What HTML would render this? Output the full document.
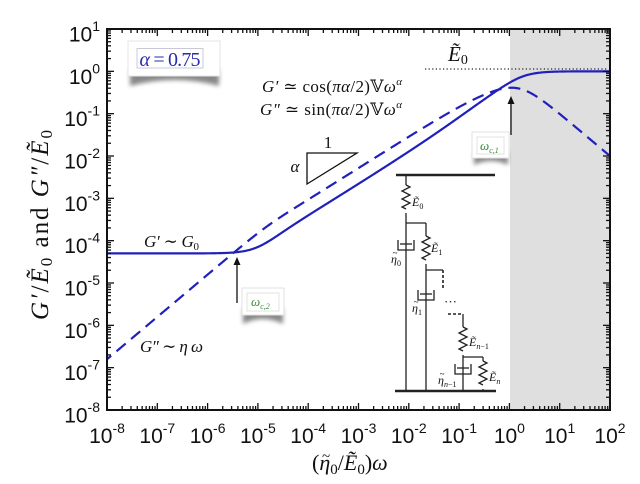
<!DOCTYPE html>
<html><head><meta charset="utf-8"><style>
html,body{margin:0;padding:0;background:#fff;}
svg{display:block;}
.tk{font-family:"Liberation Sans",Arial,sans-serif;font-size:21px;fill:#111;}
.m{font-family:"Liberation Serif","DejaVu Serif",serif;fill:#111;}
</style></head><body>
<svg id="s" width="640" height="484" viewBox="0 0 640 484" xmlns="http://www.w3.org/2000/svg">
<defs>
<clipPath id="pc"><rect x="107" y="29" width="503" height="381"/></clipPath>
<filter id="bl" x="-20%" y="-50%" width="140%" height="200%"><feGaussianBlur stdDeviation="2"/></filter>
</defs>
<rect x="0" y="0" width="640" height="484" fill="#fff"/>
<rect x="510" y="29" width="100" height="381" fill="#dfdfdf"/>
<line x1="425" y1="69" x2="608" y2="69" stroke="#222" stroke-width="1.2" stroke-dasharray="1.2 2.4"/>
<g id="curves" clip-path="url(#pc)"></g>
<g id="ticks" stroke="#111" stroke-width="1.3"></g>
<rect x="107" y="29" width="503" height="381" fill="none" stroke="#111" stroke-width="2"/>

<!-- x tick labels -->
<g class="tk" text-anchor="middle">
<text x="107" y="443">10<tspan dy="-10" font-size="14">-8</tspan></text>
<text x="157.3" y="443">10<tspan dy="-10" font-size="14">-7</tspan></text>
<text x="207.6" y="443">10<tspan dy="-10" font-size="14">-6</tspan></text>
<text x="257.9" y="443">10<tspan dy="-10" font-size="14">-5</tspan></text>
<text x="308.2" y="443">10<tspan dy="-10" font-size="14">-4</tspan></text>
<text x="358.5" y="443">10<tspan dy="-10" font-size="14">-3</tspan></text>
<text x="408.8" y="443">10<tspan dy="-10" font-size="14">-2</tspan></text>
<text x="459.1" y="443">10<tspan dy="-10" font-size="14">-1</tspan></text>
<text x="509.4" y="443">10<tspan dy="-10" font-size="14">0</tspan></text>
<text x="559.7" y="443">10<tspan dy="-10" font-size="14">1</tspan></text>
<text x="610" y="443">10<tspan dy="-10" font-size="14">2</tspan></text>
</g>
<!-- y tick labels -->
<g class="tk" text-anchor="end">
<text x="100" y="41.5">10<tspan dy="-10.5" font-size="14">1</tspan></text>
<text x="100" y="83.8">10<tspan dy="-10.5" font-size="14">0</tspan></text>
<text x="100" y="126.2">10<tspan dy="-10.5" font-size="14">-1</tspan></text>
<text x="100" y="168.5">10<tspan dy="-10.5" font-size="14">-2</tspan></text>
<text x="100" y="210.8">10<tspan dy="-10.5" font-size="14">-3</tspan></text>
<text x="100" y="253.2">10<tspan dy="-10.5" font-size="14">-4</tspan></text>
<text x="100" y="295.5">10<tspan dy="-10.5" font-size="14">-5</tspan></text>
<text x="100" y="337.8">10<tspan dy="-10.5" font-size="14">-6</tspan></text>
<text x="100" y="380.2">10<tspan dy="-10.5" font-size="14">-7</tspan></text>
<text x="100" y="422.5">10<tspan dy="-10.5" font-size="14">-8</tspan></text>
</g>

<!-- axis labels -->
<text class="m" transform="translate(48,225) rotate(-90)" text-anchor="middle" font-size="25" textLength="190" lengthAdjust="spacing"><tspan font-style="italic">G′</tspan>/<tspan font-style="italic">Ẽ</tspan><tspan font-size="17" dy="4">0</tspan><tspan dy="-4"> and </tspan><tspan font-style="italic">G″</tspan>/<tspan font-style="italic">Ẽ</tspan><tspan font-size="17" dy="4">0</tspan></text>
<text class="m" x="312" y="470" font-size="22">(<tspan font-style="italic">η</tspan><tspan font-size="15" dy="4">0</tspan><tspan dy="-4">/</tspan><tspan font-style="italic">Ẽ</tspan><tspan font-size="15" dy="4">0</tspan><tspan dy="-4">)</tspan><tspan font-style="italic">ω</tspan></text>
<text class="m" x="326" y="461" font-size="15" text-anchor="middle">~</text>

<!-- alpha legend box -->
<path d="M130,70 L219,70 L219,86 Q175,74 130,86 Z" fill="#888" filter="url(#bl)"/>
<rect x="128" y="41" width="92" height="35" fill="#fff" stroke="#e4e4e4" stroke-width="1"/>
<rect x="137" y="48.5" width="66" height="19.5" fill="#fff" stroke="#c8c8d8" stroke-width="1"/>
<text class="m" x="170" y="66" text-anchor="middle" font-size="20" style="fill:#2a2ab0" textLength="61" lengthAdjust="spacing"><tspan font-style="italic">α</tspan> = 0.75</text>

<!-- formulas -->
<text class="m" x="262" y="92" font-size="17" textLength="140" lengthAdjust="spacing"><tspan font-style="italic">G′</tspan> ≃ cos(<tspan font-style="italic">πα</tspan>/2)𝕍<tspan font-style="italic">ω</tspan><tspan font-size="11" dy="-7" font-style="italic">α</tspan></text>
<text class="m" x="260" y="115" font-size="17" textLength="142" lengthAdjust="spacing"><tspan font-style="italic">G″</tspan> ≃ sin(<tspan font-style="italic">πα</tspan>/2)𝕍<tspan font-style="italic">ω</tspan><tspan font-size="11" dy="-7" font-style="italic">α</tspan></text>

<!-- E0 label -->
<text class="m" x="448" y="61" font-size="21" font-style="italic">Ẽ<tspan font-size="14" dy="3" font-style="normal">0</tspan></text>

<!-- slope triangle -->
<path d="M307,153 L357,153 L307,184 Z" fill="none" stroke="#111" stroke-width="1.3"/>
<text class="m" x="328" y="148" font-size="17" text-anchor="middle">1</text>
<text class="m" x="295" y="172" font-size="17" text-anchor="middle" font-style="italic">α</text>

<!-- regime labels -->
<text class="m" x="144" y="247" font-size="17" textLength="55" lengthAdjust="spacing"><tspan font-style="italic">G′</tspan> ∼ <tspan font-style="italic">G</tspan><tspan font-size="11" dy="3">0</tspan></text>
<text class="m" x="140" y="352" font-size="17" textLength="63" lengthAdjust="spacing"><tspan font-style="italic">G″</tspan> ∼ <tspan font-style="italic">η ω</tspan></text>

<!-- omega c1 arrow & box -->
<line x1="511" y1="135" x2="511" y2="102" stroke="#111" stroke-width="1.3"/>
<path d="M511,96 L507.5,104 L514.5,104 Z" fill="#111"/>
<path d="M474,152 L508,152 L508,165 Q491,157 474,165 Z" fill="#888" filter="url(#bl)"/>
<rect x="472" y="132" width="37" height="26" fill="#fff" stroke="#e2e2e2" stroke-width="1"/>
<rect x="477" y="137" width="27" height="17" fill="#fff" stroke="#dcdcdc" stroke-width="0.8"/>
<text class="m" x="480" y="150" font-size="13" font-style="italic" style="fill:#3a8a3a">ω<tspan font-size="8" dy="3">c,1</tspan></text>

<!-- omega c2 arrow & box -->
<line x1="237" y1="303" x2="237" y2="264" stroke="#111" stroke-width="1.3"/>
<path d="M237,257 L233.5,265 L240.5,265 Z" fill="#111"/>
<path d="M243,308 L283,308 L283,324 Q263,314 243,324 Z" fill="#888" filter="url(#bl)"/>
<rect x="242" y="288" width="42" height="27" fill="#fff" stroke="#e2e2e2" stroke-width="1"/>
<rect x="247" y="293" width="32" height="18" fill="#fff" stroke="#dcdcdc" stroke-width="0.8"/>
<text class="m" x="251" y="306" font-size="13" font-style="italic" style="fill:#3a8a3a">ω<tspan font-size="8" dy="3">c,2</tspan></text>

<!-- circuit -->
<g stroke="#222" stroke-width="1.3" fill="none">
<line x1="396" y1="175" x2="495" y2="175" stroke-width="2.5"/>
<line x1="395" y1="391" x2="496" y2="391" stroke-width="2.5"/>
<line x1="406" y1="175" x2="406" y2="185"/>
<path d="M406,185 l4,2 l-8,4 l8,4 l-8,4 l8,4 l-8,4 l4,2"/>
<line x1="406" y1="213" x2="406" y2="391"/>
<line x1="406" y1="223" x2="426" y2="223"/>
<line x1="426" y1="223" x2="426" y2="236"/>
<path d="M426,236 l4,2 l-8,4 l8,4 l-8,4 l8,4 l-8,4 l4,2"/>
<line x1="426" y1="264" x2="426" y2="391"/>
<line x1="426" y1="270" x2="443" y2="270"/>
<line x1="443" y1="270" x2="443" y2="288" stroke-dasharray="3 2" stroke-width="1.6"/>
<line x1="448" y1="314" x2="463" y2="314" stroke-dasharray="3 2" stroke-width="1.6"/>
<line x1="463" y1="314" x2="463" y2="327"/>
<path d="M463,327 l4,2 l-8,4 l8,4 l-8,4 l8,4 l-8,4 l4,2"/>
<line x1="463" y1="355" x2="463" y2="391"/>
<line x1="463" y1="357" x2="483" y2="357"/>
<line x1="483" y1="357" x2="483" y2="361"/>
<path d="M483,361 l4,2 l-8,4 l8,4 l-8,4 l8,4 l-8,4 l4,2"/>
<line x1="483" y1="389" x2="483" y2="391"/>
<path d="M398,240 V250 H414 V240"/>
<line x1="400" y1="244" x2="412" y2="244"/>
<path d="M418,290 V300 H434 V290"/>
<line x1="420" y1="294" x2="432" y2="294"/>
<path d="M455,364 V374 H471 V364"/>
<line x1="457" y1="368" x2="469" y2="368"/>
</g>
<text class="m" x="444" y="306" font-size="13">···</text>
<g class="m" font-size="12" font-style="italic">
<text x="412" y="206">Ẽ<tspan font-size="8" dy="3" font-style="normal">0</tspan></text>
<text x="431" y="252">Ẽ<tspan font-size="8" dy="3" font-style="normal">1</tspan></text>
<text x="391" y="263">η<tspan font-size="8" dy="3" font-style="normal">0</tspan></text>
<text x="412" y="312">η<tspan font-size="8" dy="3" font-style="normal">1</tspan></text>
<text x="469" y="346">Ẽ<tspan font-size="8" dy="3" font-style="italic">n</tspan><tspan font-size="8" font-style="normal">−1</tspan></text>
<text x="438" y="384">η<tspan font-size="8" dy="3" font-style="italic">n</tspan><tspan font-size="8" font-style="normal">−1</tspan></text>
<text x="489" y="381">Ẽ<tspan font-size="8" dy="3">n</tspan></text>
</g>
<g class="m" font-size="9" text-anchor="middle">
<text x="395" y="256">~</text>
<text x="416" y="305">~</text>
<text x="442" y="377">~</text>
</g>
</svg>
<script>
(function(){
var NS="http://www.w3.org/2000/svg";
function X(l){return 107+(l+8)*50.3;}
function Y(l){return 29+(1-l)*42.333;}
var tg=document.getElementById("ticks");
function ln(x1,y1,x2,y2){var e=document.createElementNS(NS,"line");e.setAttribute("x1",x1);e.setAttribute("y1",y1);e.setAttribute("x2",x2);e.setAttribute("y2",y2);tg.appendChild(e);}
for(var e=-8;e<=2;e++){for(var m=1;m<=9;m++){var l=e+Math.log10(m);if(l>2.0001)break;var x=X(l),L=(m==1)?7:4;ln(x,410,x,410-L);ln(x,29,x,29+L);}}
for(var e=-8;e<=1;e++){for(var m=1;m<=9;m++){var l=e+Math.log10(m);if(l>1.0001)break;var y=Y(l),L=(m==1)?7:4;ln(107,y,107+L,y);ln(610,y,610-L,y);}}
function cdiv(a,b){var d=b[0]*b[0]+b[1]*b[1];return [(a[0]*b[0]+a[1]*b[1])/d,(a[1]*b[0]-a[0]*b[1])/d];}
function cmul(a,b){return [a[0]*b[0]-a[1]*b[1],a[0]*b[1]+a[1]*b[0]];}
function cpow(a,p){var r=Math.hypot(a[0],a[1]),t=Math.atan2(a[1],a[0]),rp=Math.pow(r,p);return [rp*Math.cos(p*t),rp*Math.sin(p*t)];}
var ta=1,tb=62300,G0=5e-5,al=0.75;
var p1="",p2="";
for(var i=0;i<=600;i++){
 var lw=-8.1+i*10.2/600,w=Math.pow(10,lw);
 var r=cdiv([1,w*ta],[1,w*tb]);r=[r[0]*tb/ta,r[1]*tb/ta];
 var K=cmul([0,w],cpow(r,1-al));K[0]+=G0;
 var G=cdiv(K,[1+K[0],K[1]]);
 var x=X(lw).toFixed(2);
 p1+=(i?"L":"M")+x+","+Y(Math.log10(G[0])).toFixed(2);
 p2+=(i?"L":"M")+x+","+Y(Math.log10(G[1])).toFixed(2);
}
var cg=document.getElementById("curves");
function pa(d,dash){var e=document.createElementNS(NS,"path");e.setAttribute("d",d);e.setAttribute("fill","none");e.setAttribute("stroke","#2020bb");e.setAttribute("stroke-width","2.2");if(dash)e.setAttribute("stroke-dasharray",dash);cg.appendChild(e);}
pa(p2,"12 7");pa(p1,null);
})();
</script>
</body></html>
